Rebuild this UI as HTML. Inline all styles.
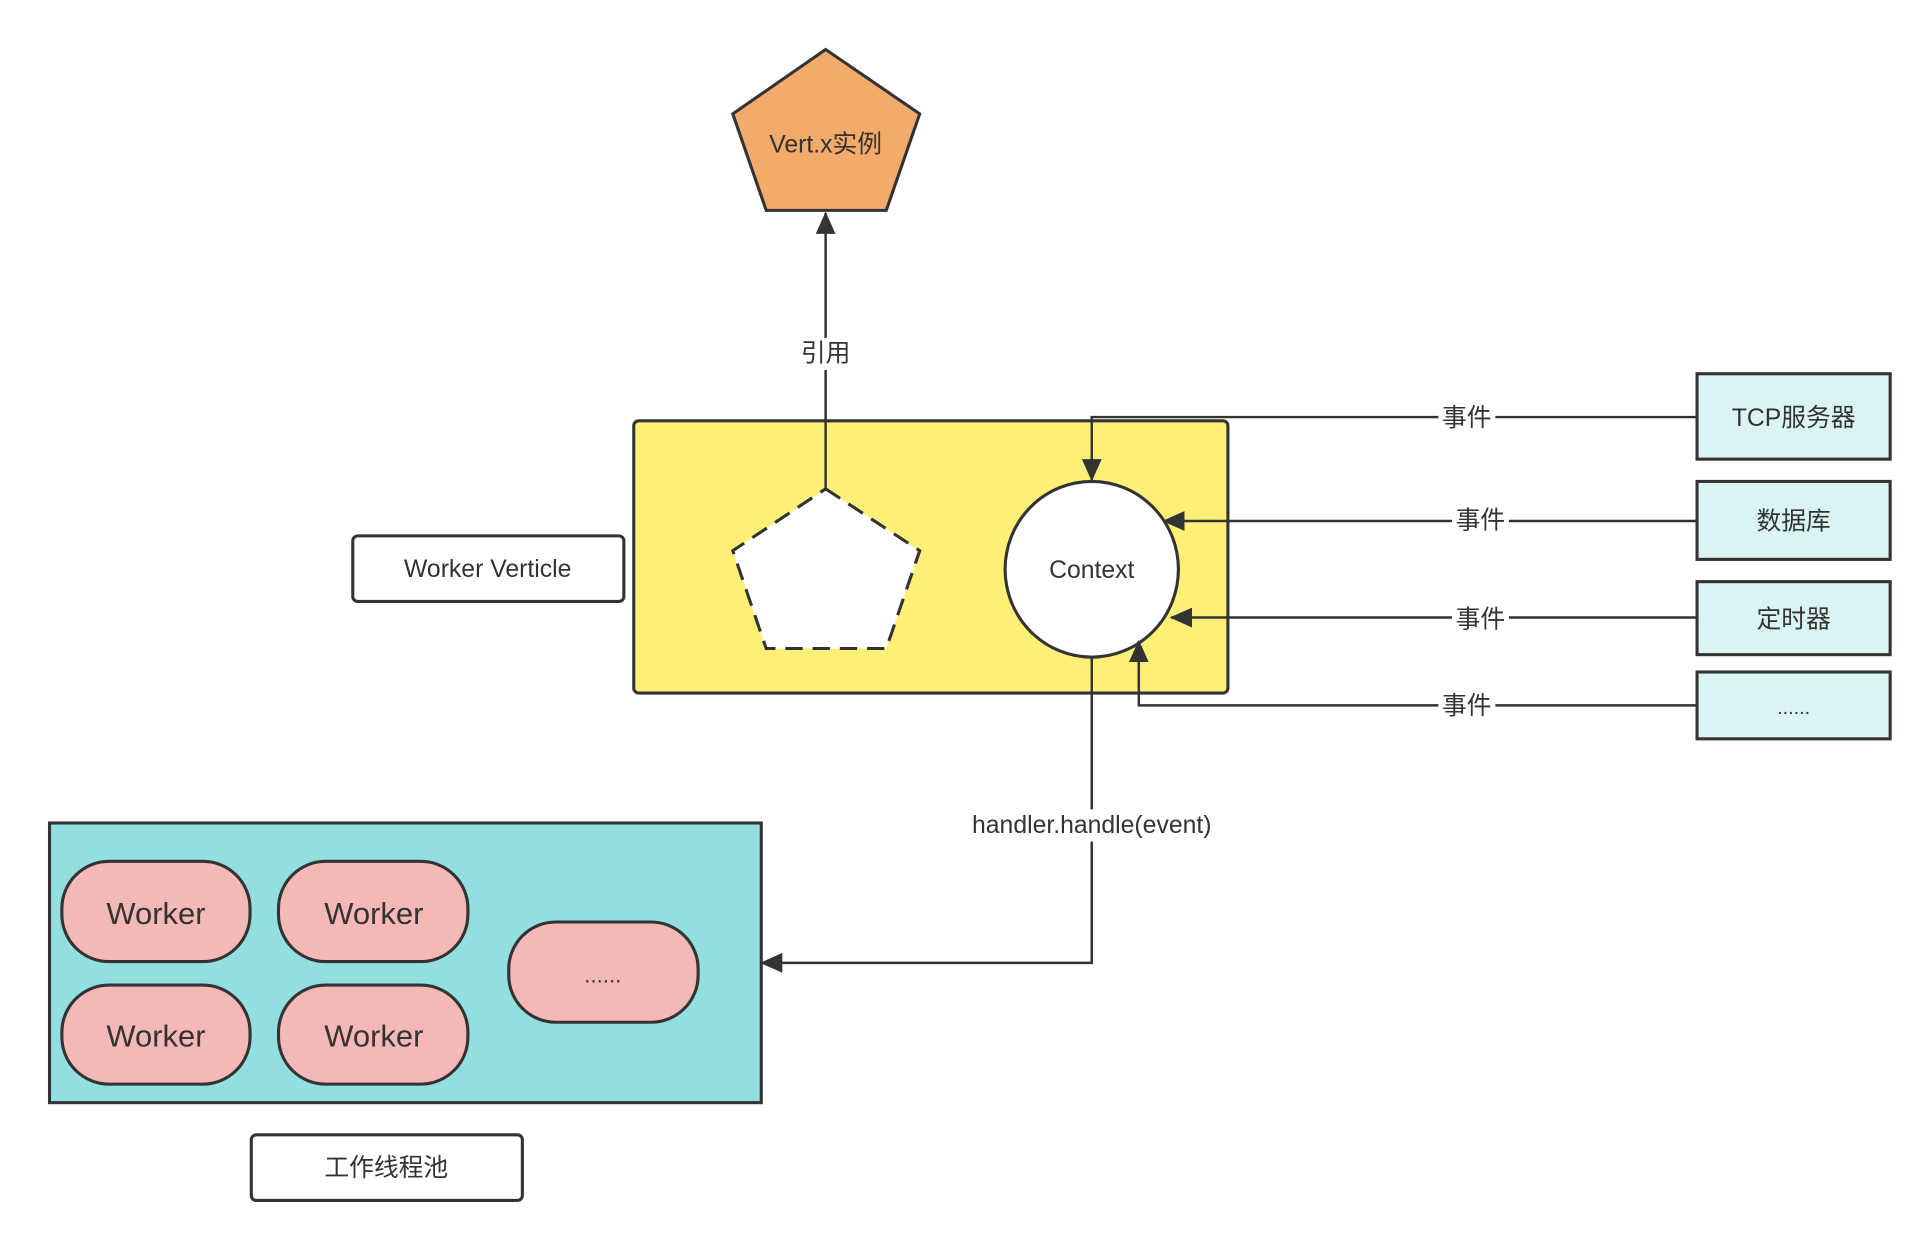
<!DOCTYPE html>
<html><head><meta charset="utf-8"><style>
html,body{margin:0;padding:0;background:#fff;}
svg{display:block;}
text{font-family:"Liberation Sans","Noto Sans CJK SC",sans-serif;fill:#333;text-anchor:middle;dominant-baseline:central;}
</style></head><body>
<svg width="1931" height="1245" viewBox="0 0 1560 1006" preserveAspectRatio="none" xmlns="http://www.w3.org/2000/svg">
<defs><marker id="a" markerWidth="10" markerHeight="10" refX="9" refY="5" orient="auto" markerUnits="userSpaceOnUse" viewBox="0 0 10 10"><path d="M0,0 L10,5 L0,10 z" fill="#333"/></marker>
<marker id="b" markerWidth="18" markerHeight="16" refX="17" refY="8" orient="auto" markerUnits="userSpaceOnUse" viewBox="0 0 18 16"><path d="M0,0 L18,8 L0,16 z" fill="#333"/></marker></defs>
<g stroke="#333" stroke-width="2.5">
<polygon points="667,40 743,92 716,170 619,170 592,92" fill="#F2AB6A"/>
<rect x="512" y="340" width="480" height="220" rx="4" fill="#FEF077"/>
<polygon points="667,395 743,445 716,524 619,524 592,445" fill="#fff" stroke-dasharray="14,8"/>
<ellipse cx="882" cy="460" rx="70" ry="71" fill="#fff"/>
<rect x="285" y="433" width="219" height="53" rx="4" fill="#fff"/>
<rect x="1371" y="302" width="156" height="69" fill="#DAF4F4"/>
<rect x="1371" y="389" width="156" height="63" fill="#DAF4F4"/>
<rect x="1371" y="470" width="156" height="59" fill="#DAF4F4"/>
<rect x="1371" y="543" width="156" height="54" fill="#DAF4F4"/>
<rect x="40" y="665" width="575" height="226" fill="#93DFE0"/>
<rect x="50" y="696" width="152" height="81" rx="38" fill="#F4B8B7"/>
<rect x="225" y="696" width="153" height="81" rx="38" fill="#F4B8B7"/>
<rect x="50" y="796" width="152" height="80" rx="38" fill="#F4B8B7"/>
<rect x="225" y="796" width="153" height="80" rx="38" fill="#F4B8B7"/>
<rect x="411" y="745" width="153" height="81" rx="38" fill="#F4B8B7"/>
<rect x="203" y="917" width="219" height="53" rx="4" fill="#fff"/>
</g>
<g stroke="#333" stroke-width="2" fill="none">
<path d="M667,395 V172" marker-end="url(#b)"/>
<path d="M1371,337 H882 V388" marker-end="url(#b)"/>
<path d="M1371,421 H940" marker-end="url(#b)"/>
<path d="M1371,499 H946" marker-end="url(#b)"/>
<path d="M1371,570 H920 V518" marker-end="url(#b)"/>
<path d="M882,531 V778 H615" marker-end="url(#b)"/>
</g>
<g fill="#fff">
<rect x="644" y="273" width="46" height="26"/>
<rect x="1162" y="326" width="46" height="24"/>
<rect x="1173" y="409" width="46" height="24"/>
<rect x="1173" y="489" width="46" height="24"/>
<rect x="1162" y="559" width="46" height="24"/>
<rect x="772" y="654" width="220" height="26"/>
</g>
<text x="667" y="117" font-size="20">Vert.x实例</text>
<text x="667" y="286" font-size="20">引用</text>
<text x="882" y="461" font-size="20">Context</text>
<text x="394" y="460" font-size="20">Worker Verticle</text>
<text x="1449" y="338" font-size="20">TCP服务器</text>
<text x="1449" y="422" font-size="20">数据库</text>
<text x="1449" y="501" font-size="20">定时器</text>
<text x="1449" y="572" font-size="16">......</text>
<text x="1185" y="338" font-size="20">事件</text>
<text x="1196" y="421" font-size="20">事件</text>
<text x="1196" y="501" font-size="20">事件</text>
<text x="1185" y="571" font-size="20">事件</text>
<text x="882" y="667" font-size="20">handler.handle(event)</text>
<text x="126" y="738" font-size="25">Worker</text>
<text x="302" y="738" font-size="25">Worker</text>
<text x="126" y="837" font-size="25">Worker</text>
<text x="302" y="837" font-size="25">Worker</text>
<text x="487" y="788" font-size="18">......</text>
<text x="312" y="944" font-size="20">工作线程池</text>
</svg>
</body></html>
